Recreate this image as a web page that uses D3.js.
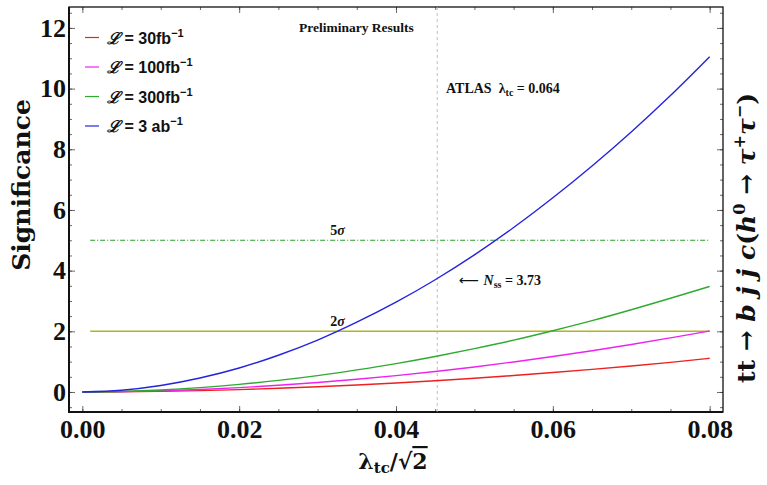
<!DOCTYPE html>
<html>
<head>
<meta charset="utf-8">
<script src="https://cdn.jsdelivr.net/npm/d3@7"></script>
<style>
  body { margin: 0; background: #fff; }
  svg { display: block; }
  .tick line { stroke: #444; stroke-width: 0.8; }
  .ticklabels .tick text { font-family: "Liberation Serif", serif; font-weight: bold; font-size: 26px; fill: #111; }
  .serif { font-family: "Liberation Serif", serif; font-weight: bold; fill: #111; }
  .wide { font-family: "DejaVu Serif", serif; font-weight: bold; fill: #111; }
  .sans { font-family: "Liberation Sans", Arial, sans-serif; font-weight: bold; fill: #111; }
</style>
</head>
<body>
<svg id="chart" width="767" height="485"></svg>
<script>
// values
var lambda = [0, 0.005, 0.01, 0.015, 0.02, 0.025, 0.03, 0.035, 0.04,
              0.045, 0.05, 0.055, 0.06, 0.065, 0.07, 0.075, 0.08]
var sig30   = [0, 0.006, 0.021, 0.046, 0.079, 0.121, 0.171, 0.23, 0.296,
               0.37, 0.452, 0.542, 0.64, 0.745, 0.857, 0.977, 1.11]
var sig100  = [0, 0.010, 0.039, 0.084, 0.144, 0.221, 0.312, 0.42, 0.54,
               0.676, 0.825, 0.99, 1.169, 1.36, 1.565, 1.784, 2.01]
var sig300  = [0, 0.018, 0.067, 0.145, 0.25, 0.382, 0.54, 0.727, 0.935,
               1.17, 1.43, 1.71, 2.02, 2.35, 2.71, 3.09, 3.48]
var sig3000 = [0, 0.057, 0.213, 0.46, 0.79, 1.21, 1.71, 2.30, 2.96,
               3.70, 4.52, 5.42, 6.40, 7.45, 8.57, 9.77, 11.05]

var seriesNames  = ["30fb", "100fb", "300fb", "3 ab"]
var seriesColors = ["#ee2020", "#ee22ee", "#2eaa2e", "#2424dd"]

var xTickValues = [0, 0.02, 0.04, 0.06, 0.08]
var xTickLabels = ["0.00", "0.02", "0.04", "0.06", "0.08"]
var yTickValues = [0, 2, 4, 6, 8, 10, 12]
var yTickLabels = ["0", "2", "4", "6", "8", "10", "12"]

var sigmaLines = [5, 2]
var atlasLambda = 0.064
var nss = 3.73

var frame = {left: 69, right: 723, top: 7, bottom: 412}

var svg = d3.select("#chart")
var x = d3.scaleLinear().domain([-0.0017, 0.0817]).range([frame.left, frame.right])
var y = d3.scaleLinear().domain([-0.66, 12.69]).range([frame.bottom, frame.top])

var xMinor = d3.range(0, 0.0801, 0.005)
var yMinor = d3.range(-0.5, 12.6, 0.5)

function clean(g) { g.select(".domain").remove() }

// minor ticks
svg.append("g").attr("transform", "translate(0," + frame.bottom + ")")
  .call(d3.axisBottom(x).tickValues(xMinor).tickSize(-3).tickFormat("")).call(clean)
svg.append("g").attr("transform", "translate(0," + frame.top + ")")
  .call(d3.axisTop(x).tickValues(xMinor).tickSize(-3).tickFormat("")).call(clean)
svg.append("g").attr("transform", "translate(" + frame.left + ",0)")
  .call(d3.axisLeft(y).tickValues(yMinor).tickSize(-3).tickFormat("")).call(clean)
svg.append("g").attr("transform", "translate(" + frame.right + ",0)")
  .call(d3.axisRight(y).tickValues(yMinor).tickSize(-3).tickFormat("")).call(clean)

// major ticks + labels
svg.append("g").attr("class", "ticklabels").attr("transform", "translate(0," + frame.bottom + ")")
  .call(d3.axisBottom(x).tickValues(xTickValues).tickFormat(function (d, i) { return xTickLabels[i] })
    .tickSizeInner(-6).tickSizeOuter(0).tickPadding(8)).call(clean)
svg.append("g").attr("transform", "translate(0," + frame.top + ")")
  .call(d3.axisTop(x).tickValues(xTickValues).tickSize(-6).tickFormat("")).call(clean)
svg.append("g").attr("class", "ticklabels").attr("transform", "translate(" + frame.left + ",0)")
  .call(d3.axisLeft(y).tickValues(yTickValues).tickFormat(function (d, i) { return yTickLabels[i] })
    .tickSizeInner(-6).tickSizeOuter(0).tickPadding(3)).call(clean)
svg.append("g").attr("transform", "translate(" + frame.right + ",0)")
  .call(d3.axisRight(y).tickValues(yTickValues).tickSize(-6).tickFormat("")).call(clean)

// frame
svg.append("rect")
  .attr("x", frame.left).attr("y", frame.top)
  .attr("width", frame.right - frame.left).attr("height", frame.bottom - frame.top)
  .attr("fill", "none").attr("stroke", "#111").attr("stroke-width", 1.3)
svg.append("path")
  .attr("d", "M" + frame.left + "," + frame.top + "V" + frame.bottom + "H" + frame.right)
  .attr("fill", "none").attr("stroke", "#111").attr("stroke-width", 2)

// ATLAS vertical line
var xAtlas = atlasLambda / Math.SQRT2
svg.append("line")
  .attr("x1", x(xAtlas)).attr("x2", x(xAtlas))
  .attr("y1", frame.top).attr("y2", frame.bottom)
  .attr("stroke", "#b9a9a9").attr("stroke-width", 0.8).attr("stroke-dasharray", "3,3")

// 5 sigma / 2 sigma lines
svg.append("line")
  .attr("x1", x(0.001)).attr("x2", x(0.08))
  .attr("y1", y(sigmaLines[0])).attr("y2", y(sigmaLines[0]))
  .attr("stroke", "#2a9a2a").attr("stroke-width", 1.1).attr("stroke-dasharray", "5,2,1,2")
svg.append("line")
  .attr("x1", x(0.001)).attr("x2", x(0.08))
  .attr("y1", y(sigmaLines[1])).attr("y2", y(sigmaLines[1]))
  .attr("stroke", "#b4b41e").attr("stroke-width", 1.4)

// curves
var allSeries = [sig30, sig100, sig300, sig3000]
var line = d3.line()
  .x(function (d, i) { return x(lambda[i]) })
  .y(function (d) { return y(d) })
  .curve(d3.curveMonotoneX)
allSeries.forEach(function (s, k) {
  svg.append("path").datum(s)
    .attr("d", line)
    .attr("fill", "none")
    .attr("stroke", seriesColors[k])
    .attr("stroke-width", 1.4)
})

// legend
var legend = svg.append("g")
seriesNames.forEach(function (name, i) {
  var ly = 37.5 + i * 29.5
  legend.append("line")
    .attr("x1", 85).attr("x2", 99).attr("y1", ly).attr("y2", ly)
    .attr("stroke", seriesColors[i]).attr("stroke-width", 1.2)
  var t = legend.append("text").attr("class", "sans")
    .attr("x", 107).attr("y", ly + 6).attr("font-size", 16)
  t.append("tspan").attr("font-family", "DejaVu Serif").attr("font-style", "italic").text("\u2112")
  t.append("tspan").text(" = " + name)
  t.append("tspan").attr("font-size", 11).attr("dy", -7).text("\u22121")
})

// annotations
svg.append("text").attr("class", "serif").attr("font-size", 13.5)
  .attr("x", 299).attr("y", 32).text("Preliminary Results")

var atl = svg.append("text").attr("class", "serif").attr("font-size", 14)
  .attr("x", 446).attr("y", 93)
atl.append("tspan").text("ATLAS")
atl.append("tspan").attr("dx", 7).text("\u03bb")
atl.append("tspan").attr("font-size", 10).attr("dy", 3).text("tc")
atl.append("tspan").attr("dy", -3).text(" = " + atlasLambda.toFixed(3))

sigmaLines.forEach(function (v) {
  var t = svg.append("text").attr("class", "serif").attr("font-size", 14)
    .attr("x", x(0.0316)).attr("y", y(v) - 5)
  t.append("tspan").text(v)
  t.append("tspan").attr("font-style", "italic").text("\u03c3")
})

var ns = svg.append("text").attr("class", "serif").attr("font-size", 14)
  .attr("x", 459).attr("y", y(nss) + 6)
ns.append("tspan").attr("font-family", "DejaVu Sans").attr("font-weight", "normal").text("\u27f5 ")
ns.append("tspan").attr("font-style", "italic").text("N")
ns.append("tspan").attr("font-size", 10).attr("dy", 3).text("ss")
ns.append("tspan").attr("dy", -3).text(" = " + nss)

// axis titles
var xl = svg.append("text").attr("class", "wide").attr("font-size", 22)
  .attr("x", 393).attr("y", 469).attr("text-anchor", "middle")
xl.append("tspan").text("\u03bb")
xl.append("tspan").attr("font-size", 15).attr("dy", 4).text("tc")
xl.append("tspan").attr("dy", -4).text("/\u221a")
xl.append("tspan").attr("text-decoration", "overline").text("2")

svg.append("text").attr("class", "wide").attr("font-size", 25)
  .attr("transform", "translate(30,185) rotate(-90)")
  .attr("text-anchor", "middle").text("Significance")

var rl = svg.append("text").attr("class", "wide").attr("font-size", 25)
  .attr("transform", "translate(755,238) rotate(-90)")
  .attr("text-anchor", "middle")
rl.append("tspan").text("tt \u2192 ")
rl.append("tspan").attr("font-style", "italic").text("b j j c")
rl.append("tspan").text("(")
rl.append("tspan").attr("font-style", "italic").text("h")
rl.append("tspan").attr("font-size", 16).attr("dy", -10).text("0")
rl.append("tspan").attr("dy", 10).text(" \u2192 ")
rl.append("tspan").attr("font-style", "italic").text("\u03c4")
rl.append("tspan").attr("font-size", 16).attr("dy", -10).text("+")
rl.append("tspan").attr("dy", 10).attr("font-style", "italic").text("\u03c4")
rl.append("tspan").attr("font-size", 16).attr("dy", -10).text("\u2212")
rl.append("tspan").attr("dy", 10).text(")")
</script>
</body>
</html>
